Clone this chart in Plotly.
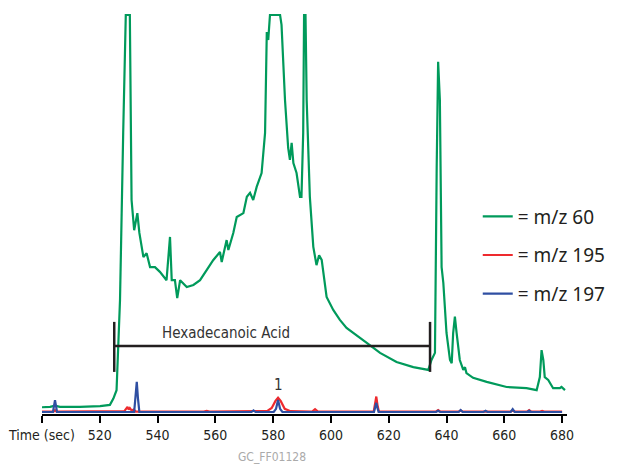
import plotly.graph_objects as go

# --- data ---
green_t = [500.0, 502.8, 504.5, 506.2, 513.1, 520.1, 523.5, 524.7, 525.8, 527.0, 528.1, 529.0, 530.4, 531.0,
           531.9, 533.0, 533.7, 535.1, 536.2, 537.4, 539.1, 540.8, 543.1, 544.3, 544.9, 546.0, 546.8, 547.8,
           550.1, 552.4, 554.7, 557.0, 559.3, 561.6, 562.2, 563.9, 564.5, 566.2, 567.4, 569.7, 570.9, 572.0,
           573.1, 574.3, 576.0, 577.2, 577.8, 578.3, 578.9, 582.4, 582.9, 584.1, 585.2, 585.8, 586.4, 587.0,
           588.1, 589.3, 589.8, 590.4, 590.7, 591.2, 591.6, 592.7, 593.9, 595.0, 595.9, 596.8, 598.5, 600.8,
           603.1, 605.4, 608.9, 612.4, 617.0, 622.7, 628.5, 633.7, 634.8, 636.0, 636.6, 637.1, 637.7, 638.3,
           638.9, 640.0, 641.2, 641.8, 642.3, 642.9, 643.5, 644.6, 645.8, 646.4, 646.9, 649.2, 653.9, 660.8,
           667.7, 671.2, 672.3, 672.9, 673.5, 674.0, 675.2, 676.9, 679.2, 679.8, 681.0]
green_v = [1.2, 1.3, 1.6, 1.3, 1.3, 1.5, 1.8, 3.4, 5.5, 28.2, 70.3, 100, 100, 53.4,
           45.8, 50.1, 45.1, 39.0, 40.0, 36.5, 36.5, 35.3, 33.2, 44.1, 33.2, 33.2, 28.7, 33.2,
           31.5, 32.0, 33.2, 35.8, 38.3, 40.3, 37.8, 43.3, 40.8, 45.1, 49.1, 50.1, 54.2, 55.2,
           53.4, 56.7, 60.2, 70.3, 95.7, 93.7, 100, 100, 97.5, 78.6, 66.5, 63.5, 67.8, 62.7,
           60.2, 54.2, 54.2, 70.3, 100, 100, 78.6, 54.2, 41.6, 37.0, 39.5, 38.3, 29.0, 25.7,
           23.2, 21.2, 19.4, 17.4, 14.9, 12.6, 11.3, 10.6, 13.1, 14.9, 61.7, 88.2, 78.6, 36.5,
           32.5, 19.9, 13.1, 12.3, 19.9, 24.0, 19.9, 13.1, 10.6, 11.3, 9.8, 8.6, 7.6, 6.3,
           6.0, 5.5, 8.8, 15.6, 13.1, 8.8, 8.1, 6.0, 6.0, 6.3, 5.5]

red_t = [500.0, 504.0, 504.5, 505.0, 528.5, 529.6, 530.0, 530.4, 531.0, 531.7, 532.5, 556.0, 557.0, 558.0,
         578.0, 579.5, 580.8, 581.7, 582.6, 584.0, 586.0, 593.5, 594.5, 595.5, 614.8, 615.3, 615.7, 616.1,
         616.6, 636.3, 637.1, 637.9, 644.2, 644.9, 645.6, 662.2, 662.9, 663.6, 667.9, 668.6, 669.3, 672.4,
         673.1, 673.8, 680.0]
red_v = [0.1, 0.1, 0.5, 0.1, 0.2, 1.3, 0.6, 1.0, 0.4, 0.6, 0.1, 0.1, 0.3, 0.1,
         0.3, 1.0, 2.8, 3.6, 2.8, 0.8, 0.2, 0.1, 0.7, 0.1, 0.1, 1.8, 3.9, 1.8,
         0.1, 0.1, 0.5, 0.1, 0.1, 0.4, 0.1, 0.1, 0.4, 0.1, 0.1, 0.5, 0.1, 0.1,
         0.3, 0.1, 0.1]

blue_t = [500.0, 503.8, 504.5, 505.2, 531.9, 532.4, 532.8, 533.2, 533.7, 572.5, 573.2, 573.9,
          580.2, 581.0, 581.7, 582.4, 583.2, 614.9, 615.3, 615.7, 616.1, 616.5, 636.4, 637.1, 637.8,
          644.2, 644.9, 645.6, 652.8, 653.5, 654.2, 662.2, 662.9, 663.6, 667.9, 668.6, 669.3, 680.0]
blue_v = [0.0, 0.0, 3.0, 0.0, 0.0, 3.5, 7.6, 3.5, 0.0, 0.0, 0.4, 0.0,
          0.0, 0.8, 3.0, 0.8, 0.0, 0.0, 1.0, 2.3, 1.0, 0.0, 0.0, 0.3, 0.0,
          0.0, 0.5, 0.0, 0.0, 0.3, 0.0, 0.0, 0.7, 0.0, 0.0, 0.3, 0.0, 0.0]

series_names = ["= m/z 60", "= m/z 195", "= m/z 197"]
series_colors = ["#009A5B", "#EE2A2E", "#2F4FA2"]

tick_vals = [500, 520, 540, 560, 580, 600, 620, 640, 660, 680]
tick_text = ["Time (sec)", "520", "540", "560", "580", "600", "620", "640", "660", "680"]

acid_label = "Hexadecanoic Acid"
acid_start, acid_end = 525.0, 634.3
acid_level = 16.6
acid_cap_low, acid_cap_high = 10.1, 22.7

peak_label = "1"
peak_t, peak_v = 581.7, 4.0

cond_font = "Liberation Sans Narrow, DejaVu Sans Condensed, Roboto Condensed, Arial Narrow, Liberation Sans, sans-serif"

fig = go.Figure()
for (t, v), name, color in zip([(green_t, green_v), (red_t, red_v), (blue_t, blue_v)],
                               series_names, series_colors):
    fig.add_trace(go.Scatter(x=t, y=v, mode="lines", name=name, legendgroup=name,
                             line=dict(color=color, width=2.2)))

# bracket
fig.add_shape(type="line", x0=acid_start, x1=acid_end, y0=acid_level, y1=acid_level,
              line=dict(color="#231F20", width=2.5))
for xe in (acid_start, acid_end):
    fig.add_shape(type="line", x0=xe, x1=xe, y0=acid_cap_low, y1=acid_cap_high,
                  line=dict(color="#231F20", width=2.5))
fig.add_annotation(x=(acid_start + acid_end) / 2 - 16, y=acid_level, text=acid_label,
                   showarrow=False, yanchor="bottom", yshift=2,
                   font=dict(family=cond_font, size=15, color="#333333"))
fig.add_annotation(x=peak_t, y=peak_v, text=peak_label, showarrow=False, yanchor="bottom",
                   font=dict(family=cond_font, size=15, color="#333333"))
fig.add_annotation(x=0.438, y=-0.085, xref="paper", yref="paper", yanchor="top",
                   text="GC_FF01128", showarrow=False,
                   font=dict(family=cond_font, size=12, color="#AAAAAA"))

# page body has an 8px margin; the figure is sized/margined to compensate
fig.update_layout(
    width=615, height=457,
    margin=dict(l=34, r=56, t=5, b=51),
    paper_bgcolor="white", plot_bgcolor="white",
    showlegend=True,
    legend=dict(x=0.83, y=0.54, xanchor="left", yanchor="top",
                font=dict(family="Noto Sans, Open Sans, sans-serif", size=19, color="#231F20"),
                tracegroupgap=11, bgcolor="rgba(0,0,0,0)"),
    xaxis=dict(range=[500, 681.7], tickvals=tick_vals, ticktext=tick_text, automargin=False,
               showgrid=False, zeroline=False, showline=True, linecolor="#000000", linewidth=1.5,
               ticks="outside", ticklen=7, tickwidth=1.5, tickcolor="#000000",
               tickfont=dict(family=cond_font, size=14, color="#231F20")),
    yaxis=dict(range=[-0.5, 100.5], visible=False, showgrid=False, zeroline=False, automargin=False),
)

fig.write_html("out.html")
